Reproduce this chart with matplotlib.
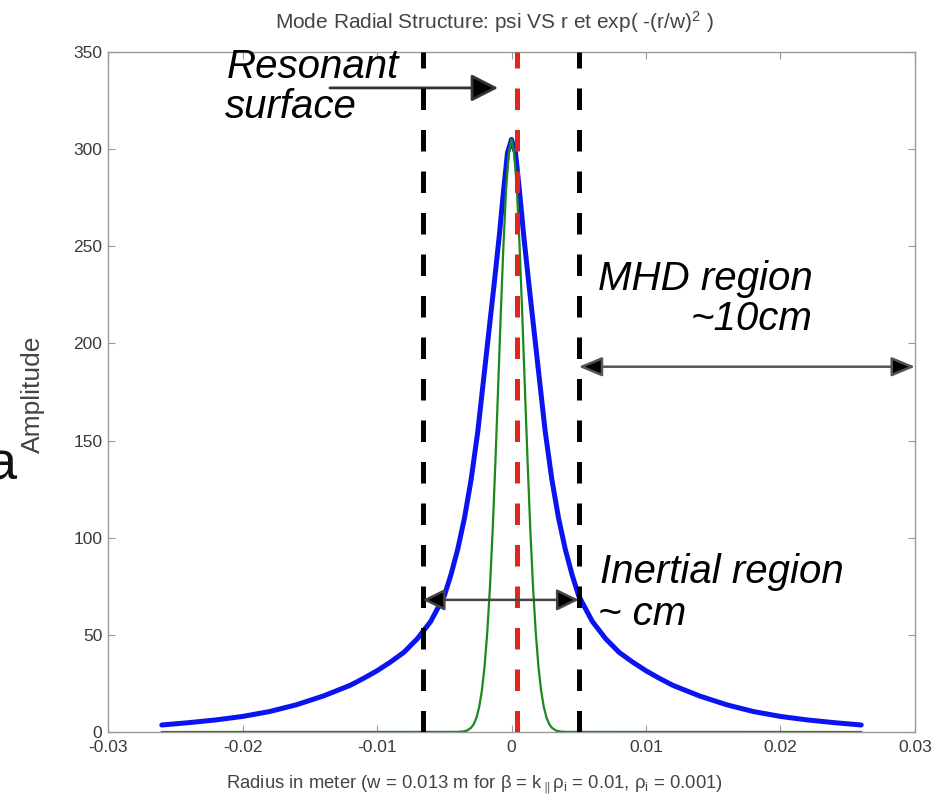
import matplotlib
matplotlib.use('Agg')
import matplotlib.pyplot as plt

plt.rcParams['font.family'] = ['Liberation Sans', 'DejaVu Sans']
plt.rcParams['mathtext.fontset'] = 'custom'
plt.rcParams['mathtext.rm'] = 'Liberation Sans'
plt.rcParams['mathtext.it'] = 'Liberation Sans:italic'

# mode profile psi(r)
r_psi = [-0.026, -0.024, -0.022, -0.020, -0.018, -0.016, -0.014, -0.012, -0.011, -0.010,
         -0.009, -0.008, -0.007, -0.006, -0.005, -0.0045, -0.004, -0.0035, -0.003,
         -0.0025, -0.0021, -0.0017, -0.0013, -0.0009, -0.0006, -0.0003, 0.0,
         0.0003, 0.0006, 0.0009, 0.0013, 0.0017, 0.0021, 0.0025, 0.003, 0.0035,
         0.004, 0.0045, 0.005, 0.006, 0.007, 0.008, 0.009, 0.010, 0.011, 0.012, 0.014,
         0.016, 0.018, 0.020, 0.022, 0.024, 0.026]
psi = [3.6, 4.8, 6.2, 8.0, 10.5, 14.0, 18.5, 24.0, 27.6, 31.5,
       36.0, 41.0, 48.0, 57.0, 70.0, 81.0, 94.0, 110.0, 130.0,
       155.0, 180.0, 205.0, 230.0, 256.0, 278.0, 298.0, 305.0,
       298.0, 278.0, 256.0, 230.0, 205.0, 180.0, 155.0, 130.0, 110.0,
       94.0, 81.0, 70.0, 57.0, 48.0, 41.0, 36.0, 31.5, 27.6, 24.0, 18.5,
       14.0, 10.5, 8.0, 6.2, 4.8, 3.6]

# gaussian envelope exp(-(r/w)^2)
r_gauss = [-0.026, -0.004, -0.0036, -0.0033, -0.003, -0.0028, -0.0026, -0.0024,
           -0.0022, -0.002, -0.0018, -0.0016, -0.0014, -0.0012, -0.001, -0.0008,
           -0.0006, -0.0004, -0.0002, 0.0, 0.0002, 0.0004, 0.0006, 0.0008, 0.001,
           0.0012, 0.0014, 0.0016, 0.0018, 0.002, 0.0022, 0.0024, 0.0026, 0.0028,
           0.003, 0.0033, 0.0036, 0.004, 0.026]
gauss = [0.0, 0.05, 0.25, 0.77, 2.2, 4.1, 7.5, 12.9,
         21.4, 33.9, 51.5, 74.8, 104.0, 138.4, 176.1, 214.8,
         250.4, 279.4, 298.0, 305.0, 298.0, 279.4, 250.4, 214.8, 176.1,
         138.4, 104.0, 74.8, 51.5, 33.9, 21.4, 12.9, 7.5, 4.1,
         2.2, 0.77, 0.25, 0.05, 0.0]

r_resonant = 0.0004
r_inertial = [-0.0066, 0.005]
r_mhd_end = 0.03

xticks = [-0.03, -0.02, -0.01, 0, 0.01, 0.02, 0.03]
xticklabels = ['-0.03', '-0.02', '-0.01', '0', '0.01', '0.02', '0.03']
yticks = [0, 50, 100, 150, 200, 250, 300, 350]

fig = plt.figure(figsize=(9.4, 8.02), dpi=100)
ax = fig.add_axes([0.1149, 0.0873, 0.8585, 0.8479])

ax.plot(r_psi, psi, color='#0a14f0', lw=3.6, solid_capstyle='round', zorder=3)
ax.plot(r_gauss, gauss, color='#1a8a1a', lw=1.6, zorder=4)

dash = (0, (4.3, 4.0))
for r in r_inertial:
    ax.axvline(r, color='black', lw=3.6, linestyle=dash, zorder=5)
ax.axvline(r_resonant, color='#e3261c', lw=3.6, linestyle=dash, zorder=6)

ax.set_xlim(-0.03, 0.03)
ax.set_ylim(0, 350)
ax.set_xticks(xticks)
ax.set_xticklabels(xticklabels)
ax.set_yticks(yticks)
ax.tick_params(direction='in', length=5, width=0.8, colors='#999999',
               labelcolor='#3a3a3a', labelsize=12.5, top=True, right=True)
ax.tick_params(axis='x', pad=6)
ax.tick_params(axis='y', pad=4)
for s in ax.spines.values():
    s.set_color('#9a9a9a')
    s.set_linewidth(1.0)

# arrows
ax.annotate('', xy=(-0.001, 331.5), xytext=(-0.0135, 331.5),
            arrowprops=dict(arrowstyle='-|>,head_length=0.55,head_width=0.28',
                            mutation_scale=30, fc='black', ec='#333333', lw=2,
                            shrinkA=0, shrinkB=0), annotation_clip=False)
ax.annotate('', xy=(r_inertial[1], 68), xytext=(r_inertial[0], 68),
            arrowprops=dict(arrowstyle='<|-|>,head_length=0.45,head_width=0.22',
                            mutation_scale=30, fc='black', ec='#444444', lw=1.8,
                            shrinkA=0, shrinkB=0), zorder=7)
ax.annotate('', xy=(r_mhd_end, 188), xytext=(r_inertial[1], 188),
            arrowprops=dict(arrowstyle='<|-|>,head_length=0.48,head_width=0.2',
                            mutation_scale=30, fc='black', ec='#555555', lw=1.8,
                            shrinkA=0, shrinkB=0), annotation_clip=False, zorder=7)

big = dict(fontsize=29, style='italic', color='black')
ax.text(-0.0212, 336.5, 'Resonant', va='baseline', ha='left', clip_on=False, **big)
ax.text(-0.0213, 316, 'surface', va='baseline', ha='left', clip_on=False, **big)
ax.text(0.0064, 227.5, 'MHD region', va='baseline', ha='left', **big)
ax.text(0.0133, 207, '~10cm', va='baseline', ha='left', **big)
ax.text(0.0066, 76.7, 'Inertial region', va='baseline', ha='left', **big)
ax.text(0.0064, 55, '~ cm', va='baseline', ha='left', **big)

fig.text(494.5 / 940, 1 - 22 / 802, 'Mode Radial Structure: psi VS r et exp( -(r/w)$^2$ )',
         ha='center', va='center', fontsize=15, color='#444444')
fig.text(474.5 / 940, 1 - 785 / 802,
         r'Radius in meter (w = 0.013 m for β = k$_{\parallel}$ρ$_{\rm i}$ = 0.01, ρ$_{\rm i}$ = 0.001)',
         ha='center', va='center', fontsize=13.3, color='#444444')
fig.text(33 / 940, 1 - 394 / 802, 'Amplitude', rotation=90, ha='center', va='center',
         fontsize=19, color='#444444')
fig.text(-13 / 940, 1 - 480 / 802, 'a', ha='left', va='baseline', fontsize=39, color='#111111')

fig.savefig('out.png', dpi=100)
